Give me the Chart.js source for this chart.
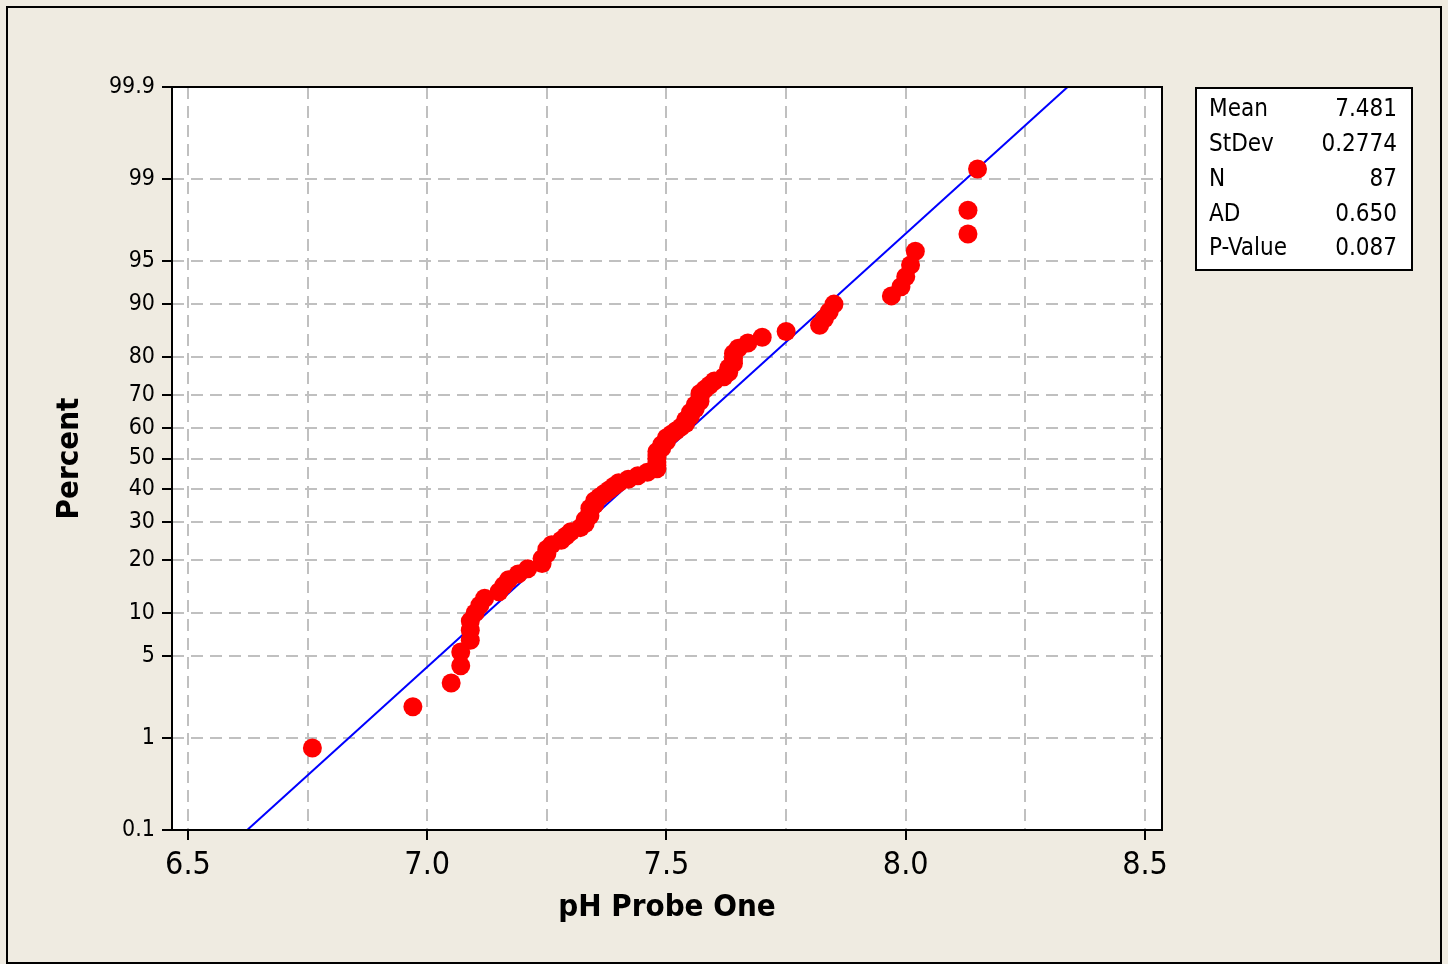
<!DOCTYPE html>
<html lang="en">
<head>
<meta charset="UTF-8">
<title>Probability Plot of pH Probe One</title>
<script src="https://cdn.jsdelivr.net/npm/chart.js@4"></script>
<style>
  * { margin: 0; padding: 0; box-sizing: border-box; }
  html, body { width: 1448px; height: 964px; overflow: hidden; background: #efebe1; }
  #wrap { position: absolute; left: 0; top: 0; width: 1448px; height: 964px; }
</style>
</head>
<body>
<div id="wrap"><canvas id="probPlot"></canvas></div>
<script>
// pH readings, sorted low to high
const phValues = [
  6.76, 6.97, 7.05, 7.07, 7.07, 7.09, 7.09, 7.09, 7.10, 7.11,
  7.12, 7.15, 7.16, 7.17, 7.19, 7.21, 7.24, 7.24, 7.25, 7.25,
  7.26, 7.28, 7.29, 7.30, 7.32, 7.33, 7.33, 7.34, 7.34, 7.34,
  7.35, 7.35, 7.36, 7.37, 7.38, 7.39, 7.40, 7.42, 7.44, 7.46,
  7.48, 7.48, 7.48, 7.48, 7.48, 7.48, 7.49, 7.49, 7.50, 7.50,
  7.51, 7.52, 7.53, 7.54, 7.54, 7.55, 7.55, 7.56, 7.56, 7.57,
  7.57, 7.57, 7.58, 7.59, 7.60, 7.62, 7.63, 7.63, 7.64, 7.64,
  7.64, 7.65, 7.67, 7.70, 7.75, 7.82, 7.83, 7.84, 7.85, 7.97,
  7.99, 8.00, 8.01, 8.02, 8.13, 8.13, 8.15
]

// fitted normal, as printed in the stats box
const fitMean = 7.481
const fitStDev = 0.2774
const statLabels = ['Mean', 'StDev', 'N', 'AD', 'P-Value']
const statValues = ['7.481', '0.2774', '87', '0.650', '0.087']

const percentTicks = [0.1, 1, 5, 10, 20, 30, 40, 50, 60, 70, 80, 90, 95, 99, 99.9]
const percentLabels = ['0.1', '1', '5', '10', '20', '30', '40', '50', '60', '70', '80', '90', '95', '99', '99.9']
const xGridTicks = [6.5, 6.75, 7.0, 7.25, 7.5, 7.75, 8.0, 8.25, 8.5]
const xLabelTicks = [6.5, 7.0, 7.5, 8.0, 8.5]

// inverse standard normal CDF (Acklam)
function normInv(p) {
  const a = [-39.69683028665376, 220.9460984245205, -275.9285104469687, 138.3577518672690, -30.66479806614716, 2.506628277459239]
  const b = [-54.47609879822406, 161.5858368580409, -155.6989798598866, 66.80131188771972, -13.28068155288572]
  const c = [-0.007784894002430293, -0.3223964580411365, -2.400758277161838, -2.549732539343734, 4.374664141464968, 2.938163982698783]
  const d = [0.007784695709041462, 0.3224671290700398, 2.445134137142996, 3.754408661907416]
  const pl = 0.02425
  let q, r
  if (p < pl) {
    q = Math.sqrt(-2 * Math.log(p))
    return (((((c[0] * q + c[1]) * q + c[2]) * q + c[3]) * q + c[4]) * q + c[5]) / ((((d[0] * q + d[1]) * q + d[2]) * q + d[3]) * q + 1)
  }
  if (p > 1 - pl) {
    q = Math.sqrt(-2 * Math.log(1 - p))
    return -(((((c[0] * q + c[1]) * q + c[2]) * q + c[3]) * q + c[4]) * q + c[5]) / ((((d[0] * q + d[1]) * q + d[2]) * q + d[3]) * q + 1)
  }
  q = p - 0.5
  r = q * q
  return (((((a[0] * r + a[1]) * r + a[2]) * r + a[3]) * r + a[4]) * r + a[5]) * q / (((((b[0] * r + b[1]) * r + b[2]) * r + b[3]) * r + b[4]) * r + 1)
}

const n = phValues.length
const zMin = normInv(0.001)
const zMax = normInv(0.999)

// median-rank plotting positions on the normal-probability scale
const points = phValues.map((v, i) => ({ x: v, y: normInv((i + 1 - 0.3) / (n + 0.4)) }))
const fitLine = [
  { x: fitMean + zMin * fitStDev, y: zMin },
  { x: fitMean + zMax * fitStDev, y: zMax }
]

const FONT = "'DejaVu Sans Condensed', 'DejaVu Sans', sans-serif"

const framePlugin = {
  id: 'frame',
  beforeDraw(chart) {
    const { ctx, chartArea: a } = chart
    ctx.save()
    ctx.fillStyle = '#efebe1'
    ctx.fillRect(0, 0, chart.width, chart.height)
    ctx.strokeStyle = '#000'
    ctx.lineWidth = 2
    ctx.strokeRect(7, 7, 1434, 956)
    ctx.fillStyle = '#fff'
    ctx.fillRect(a.left, a.top, a.right - a.left, a.bottom - a.top)
    ctx.restore()
  },
  afterDraw(chart) {
    const { ctx, chartArea: a } = chart
    ctx.save()
    ctx.strokeStyle = '#000'
    ctx.lineWidth = 2
    ctx.strokeRect(a.left, a.top, a.right - a.left, a.bottom - a.top)

    // stats box
    ctx.fillStyle = '#fff'
    ctx.fillRect(1196, 88, 216, 182)
    ctx.strokeRect(1196, 88, 216, 182)
    ctx.fillStyle = '#000'
    ctx.font = `24px ${FONT}`
    ctx.textBaseline = 'middle'
    statLabels.forEach((label, i) => {
      const y = 110 + i * 34.8
      ctx.textAlign = 'left'
      ctx.fillText(label, 1209, y)
      ctx.textAlign = 'right'
      ctx.fillText(statValues[i], 1397, y)
    })
    ctx.restore()
  }
}

new Chart(document.getElementById('probPlot'), {
  type: 'scatter',
  data: {
    datasets: [
      {
        data: points,
        backgroundColor: '#ff0000',
        borderWidth: 0,
        pointRadius: 9.5,
        pointHoverRadius: 9.5,
        order: 0
      },
      {
        type: 'line',
        data: fitLine,
        borderColor: '#0000ff',
        borderWidth: 2,
        pointRadius: 0,
        fill: false,
        order: 1
      }
    ]
  },
  options: {
    responsive: true,
    maintainAspectRatio: false,
    animation: false,
    devicePixelRatio: 1,
    layout: { padding: { top: 87, right: 286, bottom: 0, left: 0 } },
    plugins: { legend: { display: false }, tooltip: { enabled: false } },
    scales: {
      x: {
        type: 'linear',
        min: 6.4666,
        max: 8.5355,
        afterBuildTicks: s => { s.ticks = xGridTicks.map(v => ({ value: v })) },
        afterFit: s => { s.height = 134 },
        ticks: {
          autoSkip: false,
          maxRotation: 0,
          padding: 6,
          color: '#000',
          font: { family: FONT, size: 32 },
          callback: v => (xLabelTicks.includes(v) ? v.toFixed(1) : '')
        },
        grid: {
          color: '#c0c0c0',
          lineWidth: 2,
          tickLength: 10,
          tickWidth: 2,
          tickColor: ctx => (ctx.tick && xLabelTicks.includes(ctx.tick.value) ? '#000' : 'rgba(0,0,0,0)')
        },
        border: { display: false, dash: [12, 7] },
        title: {
          display: true,
          text: 'pH Probe One',
          color: '#000',
          font: { family: FONT, size: 31, weight: 'bold' },
          padding: { top: 0, bottom: 37 }
        }
      },
      y: {
        type: 'linear',
        min: zMin,
        max: zMax,
        afterBuildTicks: s => { s.ticks = percentTicks.map(p => ({ value: normInv(p / 100) })) },
        afterFit: s => { s.width = 172 },
        ticks: {
          autoSkip: false,
          padding: 7,
          color: '#000',
          font: { family: FONT, size: 23 },
          callback: (v, i) => percentLabels[i]
        },
        grid: {
          color: '#c0c0c0',
          lineWidth: 2,
          tickLength: 10,
          tickWidth: 2,
          tickColor: '#000'
        },
        border: { display: false, dash: [12, 7] },
        title: {
          display: true,
          text: 'Percent',
          color: '#000',
          font: { family: FONT, size: 31, weight: 'bold' },
          padding: { top: 51, bottom: 0 }
        }
      }
    }
  },
  plugins: [framePlugin]
})
</script>
</body>
</html>
